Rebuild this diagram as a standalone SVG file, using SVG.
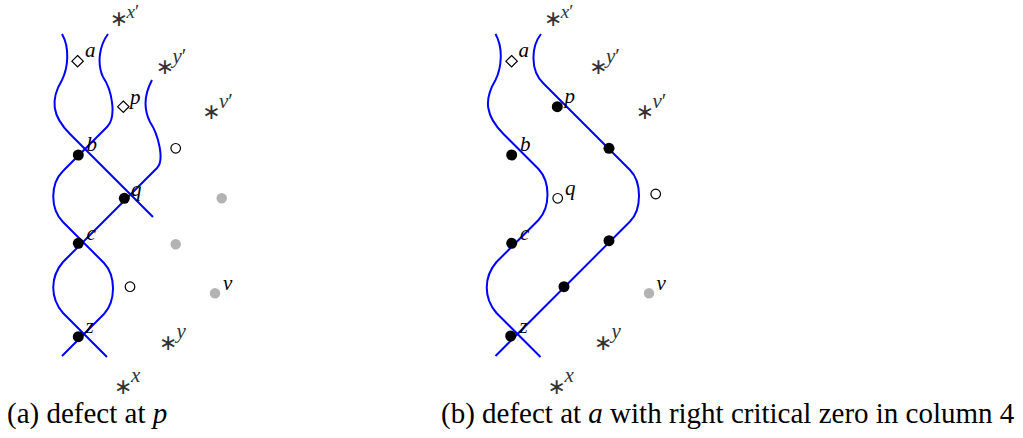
<svg xmlns="http://www.w3.org/2000/svg" width="1023" height="438" viewBox="0 0 1023 438">
<style>
.wire{fill:none;stroke:#0000ff;stroke-width:2}
.dot{fill:#000}
.gray{fill:#b3b3b3}
.open{fill:#fff;stroke:#000;stroke-width:1.2}
.lbl{font-family:"Liberation Serif",serif;font-style:italic;font-size:21px;fill:#000}
.ast{font-family:"DejaVu Sans",sans-serif;font-size:22px;fill:#333;text-anchor:middle;dominant-baseline:central}
.sup{font-family:"Liberation Serif",serif;font-style:italic;font-size:21px;fill:#333}
.top{font-size:19px}
.pr{font-style:normal}
.cap{font-family:"Liberation Serif",serif;font-size:29px;fill:#000}
.it{font-style:italic}
</style>
<rect width="1023" height="438" fill="#fff"/>
<g id="connectors">
<path class="wire" d="M62,34 C70,48 68,68 62,80 C50,100 52,116 70,134 L153,217"/>
<path class="wire" d="M108,34 C99,46 97,64 103,77 C112,90 117,117 107,127 L63,171 C50,184 50,209 63,222 L104,263 C116,276 116,301 104,314 L62,356"/>
<path class="wire" d="M152,80 C144,95 143,108 150,122 C158,134 165,160 157,168 L63,262 C50,277 50,298 63,313 L107,357"/>
<g transform="translate(433.5,0)">
<path class="wire" d="M62,34 C70,48 68,68 62,80 C50,100 52,116 70,134 L105,169 C117,182 117,207 105,220 L63,262 C50,277 50,298 63,313 L107,357"/>
<path class="wire" d="M107.5,34 C98,46 96,70 110,83.5 L196.5,170 C208.5,182 208.5,209.5 196.5,221.5 L62,356"/>
</g>
</g>
<!-- panel a -->
<g id="a-a"><path class="open" d="M77.6,55.5 L83.3,61.2 L77.6,66.9 L71.9,61.2 Z"/><text class="lbl" x="85" y="57">a</text></g>
<g id="a-p"><path class="open" d="M123.3,101 L129,106.7 L123.3,112.4 L117.6,106.7 Z"/><text class="lbl" x="130" y="103.5">p</text></g>
<g id="a-b"><circle class="dot" cx="78.3" cy="155" r="5.5"/><text class="lbl" x="86.5" y="150.5">b</text></g>
<g id="a-q"><circle class="dot" cx="124.3" cy="198.3" r="5.5"/><text class="lbl" x="131" y="195.5">q</text></g>
<g id="a-c"><circle class="dot" cx="78.3" cy="243.3" r="5.5"/><text class="lbl" x="86.5" y="240">c</text></g>
<g id="a-z"><circle class="dot" cx="78.3" cy="336.7" r="5.5"/><text class="lbl" x="85.5" y="333">z</text></g>
<g id="a-o1"><circle class="open" cx="175.7" cy="148.3" r="4.8"/></g>
<g id="a-o2"><circle class="open" cx="130" cy="286.7" r="4.8"/></g>
<g id="a-g1"><circle class="gray" cx="221.7" cy="198.3" r="5.2"/></g>
<g id="a-g2"><circle class="gray" cx="175.7" cy="244.3" r="5.2"/></g>
<g id="a-v"><circle class="gray" cx="215" cy="293.3" r="5.2"/><text class="lbl" x="223" y="290">v</text></g>
<g id="a-xp"><text class="ast" x="119" y="18">∗</text><text class="sup top" x="126.5" y="17.5">x<tspan class="pr">′</tspan></text></g>
<g id="a-yp"><text class="ast" x="165" y="66">∗</text><text class="sup" x="172.5" y="63">y<tspan class="pr">′</tspan></text></g>
<g id="a-vp"><text class="ast" x="211.5" y="111">∗</text><text class="sup" x="219" y="108">v<tspan class="pr">′</tspan></text></g>
<g id="a-y"><text class="ast" x="168.3" y="342">∗</text><text class="sup" x="176.5" y="337.5">y</text></g>
<g id="a-x"><text class="ast" x="123.3" y="386">∗</text><text class="sup" x="131" y="382">x</text></g>
<!-- panel b -->
<g id="b-a"><path class="open" d="M511.6,55.5 L517.3,61.2 L511.6,66.9 L505.9,61.2 Z"/><text class="lbl" x="518.5" y="57">a</text></g>
<g id="b-p"><circle class="dot" cx="557.3" cy="106.7" r="5.5"/><text class="lbl" x="564.5" y="103">p</text></g>
<g id="b-d1"><circle class="dot" cx="609" cy="148.3" r="5.5"/></g>
<g id="b-b"><circle class="dot" cx="511.7" cy="155" r="5.5"/><text class="lbl" x="520" y="151">b</text></g>
<g id="b-q"><circle class="open" cx="557.7" cy="198.3" r="4.8"/><text class="lbl" x="565" y="195">q</text></g>
<g id="b-o2"><circle class="open" cx="655.7" cy="194" r="4.8"/></g>
<g id="b-c"><circle class="dot" cx="511.7" cy="243.3" r="5.5"/><text class="lbl" x="520" y="240">c</text></g>
<g id="b-d2"><circle class="dot" cx="609" cy="240.7" r="5.5"/></g>
<g id="b-d3"><circle class="dot" cx="564" cy="286.7" r="5.5"/></g>
<g id="b-z"><circle class="dot" cx="510.7" cy="336" r="5.5"/><text class="lbl" x="519.5" y="333">z</text></g>
<g id="b-v"><circle class="gray" cx="649" cy="293.3" r="5.2"/><text class="lbl" x="656.5" y="290">v</text></g>
<g id="b-xp"><text class="ast" x="553.3" y="18">∗</text><text class="sup top" x="560.8" y="17.5">x<tspan class="pr">′</tspan></text></g>
<g id="b-yp"><text class="ast" x="598.5" y="66">∗</text><text class="sup" x="606" y="63">y<tspan class="pr">′</tspan></text></g>
<g id="b-vp"><text class="ast" x="645" y="111">∗</text><text class="sup" x="652.5" y="108">v<tspan class="pr">′</tspan></text></g>
<g id="b-y"><text class="ast" x="603.3" y="342">∗</text><text class="sup" x="611.5" y="337.5">y</text></g>
<g id="b-x"><text class="ast" x="556.7" y="386">∗</text><text class="sup" x="564.5" y="382">x</text></g>
<g id="captions">
<text class="cap" x="7" y="423">(a) defect at <tspan class="it">p</tspan></text>
<text class="cap" x="441" y="423">(b) defect at <tspan class="it">a</tspan> with right critical zero in column 4</text>
</g>
</svg>
